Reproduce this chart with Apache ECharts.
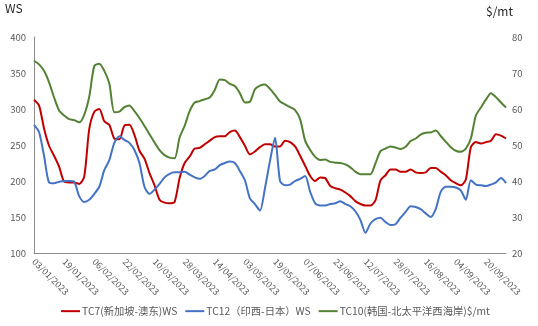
<!DOCTYPE html>
<html>
<head>
<meta charset="utf-8">
<script src="https://cdn.jsdelivr.net/npm/echarts@6/dist/echarts.min.js"></script>
<style>
html,body{margin:0;padding:0;background:#fff;}
#chart{width:538px;height:326px;}
</style>
</head>
<body>
<div id="chart"></div>
<script>
// x-axis tick labels (every 6th point, points are every 2nd business day)
const tickLabels = ['03/01/2023','19/01/2023','06/02/2023','22/02/2023','10/03/2023','28/03/2023','14/04/2023','03/05/2023','19/05/2023','07/06/2023','23/06/2023','12/07/2023','28/07/2023','16/08/2023','04/09/2023','20/09/2023'];

// TC7 (Singapore - East Australia), WS, left axis
const tc7 = [313,305,273,249,235,220,199,198,198,196,206,272,296,300,283,278,259,258,277,278,264,242,231,211,194,174,170,169,171,204,225,234,245,246,251,256,261,262,262,268,270,261,249,237,241,247,251,251,248,248,256,254,248,235,221,207,200,205,204,193,190,188,184,179,172,168,166,166,173,201,208,216,216,213,213,216,212,211,212,218,218,213,208,201,197,194,202,247,254,252,254,256,265,263,259];

// TC12 (West India - Japan), WS, left axis
const tc12 = [278,268,235,198,197,199,200,200,199,179,171,174,182,192,215,229,253,262,257,253,243,225,192,182,188,196,205,210,212,212,213,209,205,203,207,214,216,222,225,227,225,214,201,176,168,159,190,228,260,200,194,195,200,203,207,185,169,166,166,168,169,172,168,165,158,146,128,141,147,149,143,139,140,149,157,165,164,161,155,150,161,185,192,192,191,187,174,201,195,194,193,195,198,204,197];

// TC10 (Korea - North Pacific West Coast), $/mt, right axis
const tc10 = [73.4,72.4,70.6,67.4,63.2,59.6,58.2,57.2,56.9,56.3,58.4,63.4,71.9,72.6,70.6,67.1,59.1,59.3,60.5,61.0,59.4,57.5,55.3,53.0,50.7,48.6,47.2,46.5,46.3,52.1,55.3,59.4,61.8,62.2,62.7,63.2,65.3,68.2,68.0,67.0,66.4,64.4,61.8,62.0,65.5,66.5,66.8,65.6,63.9,62.1,61.3,60.5,59.7,57.2,51.2,48.6,46.7,45.8,46.0,45.3,45.1,45.0,44.6,43.8,42.6,41.9,41.9,41.9,44.9,48.3,49.0,49.6,49.3,48.9,49.5,51.1,51.8,52.9,53.4,53.5,54.0,52.5,50.9,49.4,48.4,48.1,49.0,51.8,58.2,60.4,62.6,64.4,63.3,61.8,60.4];

const seriesNames = ['TC7(新加坡-澳东)WS', 'TC12（印西-日本）WS', 'TC10(韩国-北太平洋西海岸)$/mt'];
const categories = tc7.map((_, i) => (i % 6 === 0 ? tickLabels[i / 6] : 'p' + i));

const FONT = '"Noto Sans CJK SC", "Noto Sans", sans-serif';
const chart = echarts.init(document.getElementById('chart'), null, {renderer: 'canvas'});
chart.setOption({
  animation: false,
  backgroundColor: '#ffffff',
  grid: {left: 34, right: 32, top: 37, bottom: 73},
  legend: {
    data: seriesNames,
    left: 56, top: 301,
    itemWidth: 19, itemHeight: 2, itemGap: 8,
    icon: 'rect',
    textStyle: {fontFamily: FONT, fontSize: 10.3, color: '#595959', padding: [0, 0, 0, -3]}
  },
  graphic: [
    {type: 'text', left: 5, top: 2, style: {text: 'WS', font: '12px ' + FONT, fill: '#262626'}},
    {type: 'text', left: 486, top: 5, style: {text: '$/mt', font: '12px ' + FONT, fill: '#262626'}}
  ],
  xAxis: {
    type: 'category',
    data: categories,
    boundaryGap: false,
    axisLine: {lineStyle: {color: '#8c8c8c', width: 1}},
    axisTick: {show: false},
    axisLabel: {interval: 5, rotate: -45, margin: 7, fontSize: 9, color: '#595959', fontFamily: FONT}
  },
  yAxis: [
    {
      type: 'value', min: 100, max: 400, interval: 50,
      axisLine: {show: true, lineStyle: {color: '#8c8c8c', width: 1}},
      axisTick: {show: false},
      splitLine: {show: false},
      axisLabel: {fontSize: 9.5, color: '#595959', margin: 8, fontFamily: FONT}
    },
    {
      type: 'value', min: 20, max: 80, interval: 10, position: 'right',
      axisLine: {show: false},
      axisTick: {show: false},
      splitLine: {show: false},
      axisLabel: {fontSize: 9.5, color: '#595959', margin: 6, fontFamily: FONT}
    }
  ],
  series: [
    {name: seriesNames[0], type: 'line', yAxisIndex: 0, data: tc7, showSymbol: false, smooth: 0.25,
     lineStyle: {color: '#C00000', width: 2}, itemStyle: {color: '#C00000'}},
    {name: seriesNames[1], type: 'line', yAxisIndex: 0, data: tc12, showSymbol: false, smooth: 0.25,
     lineStyle: {color: '#4472C4', width: 2}, itemStyle: {color: '#4472C4'}},
    {name: seriesNames[2], type: 'line', yAxisIndex: 1, data: tc10, showSymbol: false, smooth: 0.25,
     lineStyle: {color: '#548235', width: 2}, itemStyle: {color: '#548235'}}
  ]
});
</script>
</body>
</html>
